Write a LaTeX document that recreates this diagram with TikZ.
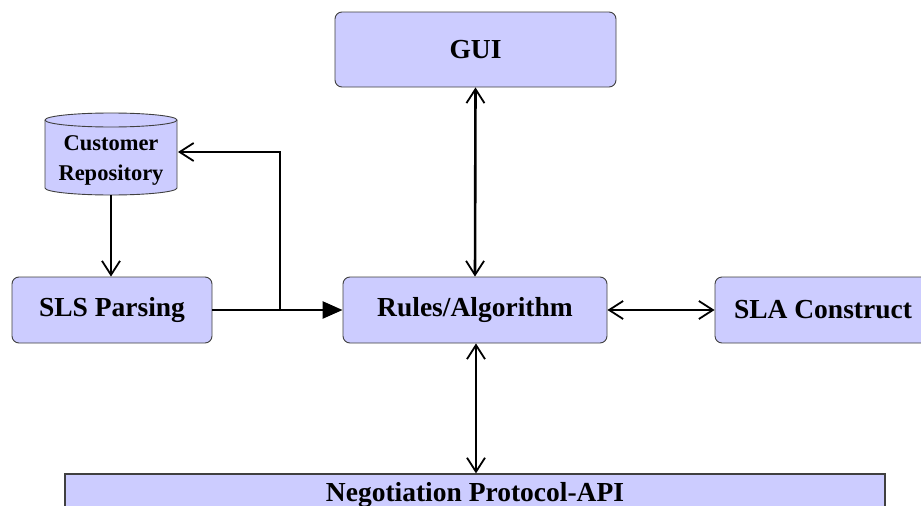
\documentclass[tikz,border=0pt]{standalone}
\usepackage{fontspec}
\setmainfont{Liberation Serif}
\usetikzlibrary{arrows.meta}
\definecolor{boxfill}{HTML}{CCCCFF}
\definecolor{boxline}{HTML}{404040}
\tikzset{
  blk/.style={draw=boxline, line width=0.9pt, fill=boxfill, rounded corners=7pt,
    font=\fontsize{27.5}{30}\selectfont\bfseries, inner sep=0pt, align=center},
  flat/.style={draw=boxline, line width=1.2pt, fill=boxfill,
    font=\fontsize{27.5}{30}\selectfont\bfseries, inner sep=0pt},
  conn/.style={line width=2pt, draw=black},
  thickconn/.style={line width=2.6pt, draw=black},
  barb/.tip={Straight Barb[length=14pt,width=18pt,line width=1.8pt]},
  tri/.tip={Triangle[length=20pt,width=17pt]}
}
\begin{document}
\begin{tikzpicture}[x=1pt,y=-1pt]
\useasboundingbox (0,0) rectangle (921,506);
\clip (0,0) rectangle (921,506);
\fill[white] (0,0) rectangle (921,506);

% nodes
\node[blk, minimum width=281pt, minimum height=75pt] (gui) at (475.5,49.5) {GUI};
\node[blk, minimum width=264pt, minimum height=66pt] (rules) at (475,310) {Rules/Algorithm};
\node[blk, minimum width=200pt, minimum height=66pt] (sls) at (112,310) {SLS Parsing};
\node[blk, minimum width=216pt, minimum height=66pt] (sla) at (823,310) {SLA Construct};
\node[flat, minimum width=820pt, minimum height=42pt] (neg) at (475,495) {Negotiation Protocol-API};

% cylinder
\filldraw[draw=boxline, line width=0.9pt, fill=boxfill]
  (45,120) -- (45,188) arc[start angle=180, end angle=0, x radius=66, y radius=7]
  -- (177,120) arc[start angle=0, end angle=-180, x radius=66, y radius=7] -- cycle;
\draw[boxline, line width=0.9pt] (45,120) arc[start angle=180, end angle=0, x radius=66, y radius=7];
\node[font=\fontsize{22.5}{30}\selectfont\bfseries, align=center, inner sep=0pt] (cr) at (111,160) {Customer\\Repository};
\coordinate (crb) at (111,195);
\coordinate (cre) at (178,152);
\coordinate (junc) at (280,310);

% connectors
\draw[conn, -{barb}] (crb) -- (crb |- sls.north);
\draw[thickconn, -{tri}] (sls.east) -- (rules.west);
\draw[conn, -{barb}] (junc) |- (cre);
\draw[thickconn, {barb}-{barb}] (gui.south) -- (rules.north);
\draw[thickconn, {barb}-{barb}] (rules.east) -- (sla.west);
\draw[conn, {barb}-{barb}] ([xshift=1pt]rules.south) -- ([xshift=1pt]rules.south |- neg.north);
\end{tikzpicture}
\end{document}
